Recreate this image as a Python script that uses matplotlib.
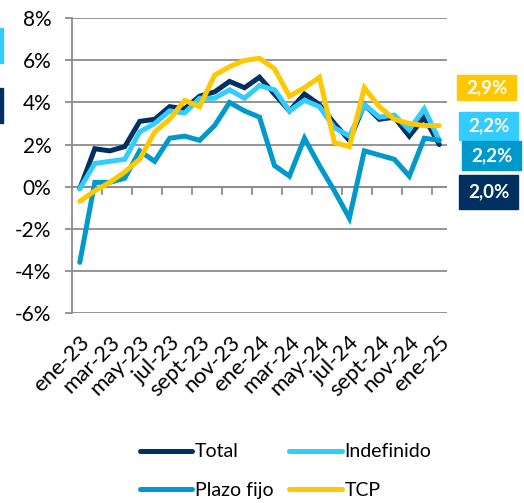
import matplotlib
matplotlib.use('Agg')
import matplotlib.pyplot as plt
from matplotlib.patches import Rectangle

plt.rcParams['font.family'] = ['Lato', 'DejaVu Sans']

# monthly series, ene-23 .. ene-25 (25 months), % change
months = ['ene-23', 'feb-23', 'mar-23', 'abr-23', 'may-23', 'jun-23', 'jul-23',
          'ago-23', 'sept-23', 'oct-23', 'nov-23', 'dic-23', 'ene-24', 'feb-24',
          'mar-24', 'abr-24', 'may-24', 'jun-24', 'jul-24', 'ago-24', 'sept-24',
          'oct-24', 'nov-24', 'dic-24', 'ene-25']
total = [-0.1, 1.8, 1.7, 1.9, 3.1, 3.2, 3.8, 3.7, 4.3, 4.5, 5.0, 4.7, 5.2,
         4.4, 3.6, 4.4, 3.9, 3.0, 2.2, 3.9, 3.2, 3.3, 2.4, 3.3, 2.0]
indefinido = [-0.1, 1.1, 1.2, 1.3, 2.6, 3.0, 3.6, 3.5, 4.2, 4.2, 4.6, 4.2, 4.8,
              4.6, 3.6, 4.1, 3.8, 2.8, 2.4, 3.9, 3.3, 3.4, 2.7, 3.7, 2.2]
plazo_fijo = [-3.6, 0.2, 0.2, 0.4, 1.7, 1.2, 2.3, 2.4, 2.2, 2.9, 4.0, 3.6, 3.3,
              1.0, 0.5, 2.3, 1.0, -0.2, -1.5, 1.7, 1.5, 1.3, 0.5, 2.3, 2.2]
tcp = [-0.7, -0.2, 0.2, 0.7, 1.3, 2.6, 3.2, 4.1, 3.8, 5.3, 5.7, 6.0, 6.1,
       5.6, 4.3, 4.7, 5.2, 2.1, 1.9, 4.7, 3.8, 3.2, 3.0, 2.9, 2.9]

series_names = ['Total', 'Indefinido', 'Plazo fijo', 'TCP']
colors = ['#00305F', '#33CCFF', '#0099CC', '#FFC800']
end_labels = ['2,0%', '2,2%', '2,2%', '2,9%']

fig = plt.figure(figsize=(5.24, 5.03), dpi=100)
ax = fig.add_axes([0.138, 0.378, 0.7145, 0.5856])

x = list(range(len(months)))
lines = {}
for vals, name, col in zip([total, indefinido, plazo_fijo, tcp], series_names, colors):
    lines[name], = ax.plot(x, vals, color=col, lw=3.6, label=name,
                           solid_capstyle='round', solid_joinstyle='miter')

ax.set_xlim(-0.5, len(months) - 0.5)
ax.set_ylim(-6, 8)
ax.set_yticks(range(-6, 9, 2))
ax.set_yticklabels([f'{v}%' for v in range(-6, 9, 2)], fontsize=15)
ax.grid(axis='y', color='#8C8C8C', lw=1.3)
ax.set_axisbelow(True)
ax.tick_params(axis='y', length=5, width=1.3, color='#8C8C8C', pad=10)

ax.set_xticks(x[::2])
ax.set_xticklabels(months[::2], rotation=45, ha='right', rotation_mode='anchor',
                   fontsize=16)
ax.tick_params(axis='x', length=0, pad=14)

for s in ['top', 'right', 'bottom']:
    ax.spines[s].set_visible(False)
ax.spines['left'].set_color('#8C8C8C')
ax.spines['left'].set_linewidth(1.3)

# small ticks on the 0% line, between categories
ax.axhline(0, color='#8C8C8C', lw=1.3, zorder=1)
for t in range(1, len(months) - 1, 2):
    ax.plot([t + 0.5, t + 0.5], [0, -0.33], color='#8C8C8C', lw=1.3, zorder=1)

# legend filled column-wise -> Total/Indefinido on row 1, Plazo fijo/TCP on row 2
order = ['Total', 'Plazo fijo', 'Indefinido', 'TCP']
W, H = 524, 503
fig.legend([lines[n] for n in order], order, loc='center',
           bbox_to_anchor=(285.5 / W, 1 - 471 / H), ncol=2, frameon=False,
           fontsize=14, handlelength=2.7, handletextpad=0.15, columnspacing=0.8,
           labelspacing=1.1)

# end-value boxes on the right
box_y = [(175, 209), (112, 140), (141, 170), (75, 100)]
box_x = [459, 459, 462, 457]
for (y0, y1), x0, col, lab in zip(box_y, box_x, colors, end_labels):
    fig.patches.append(Rectangle((x0 / W, 1 - y1 / H), 59 / W, (y1 - y0) / H,
                                 transform=fig.transFigure, color=col, zorder=5))
    fig.text((x0 + 29.5) / W, 1 - (y0 + y1) / 2 / H, lab, color='white',
             fontsize=13.5, fontweight='bold', ha='center', va='center', zorder=6)

# cut-off boxes at the left edge
fig.patches.append(Rectangle((0, 1 - 63 / H), 3 / W, 35 / H,
                             transform=fig.transFigure, color=colors[1]))
fig.patches.append(Rectangle((0, 1 - 123 / H), 3 / W, 35 / H,
                             transform=fig.transFigure, color=colors[0]))

fig.savefig('out.png', dpi=100)
